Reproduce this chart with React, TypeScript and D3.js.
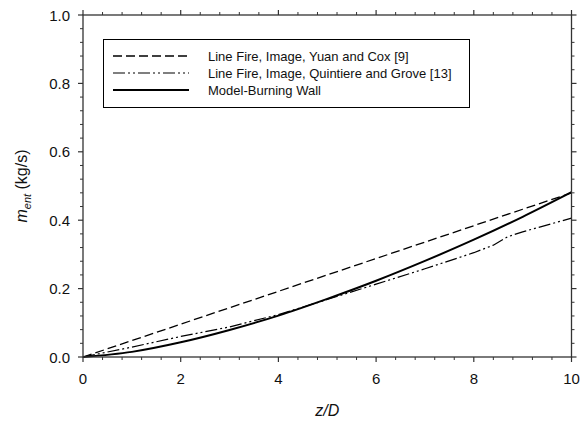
import React from "react";
import * as d3 from "d3";

const zYuan = [0, 1, 2, 3, 4, 5, 6, 7, 8, 9, 10];
const mYuan = [0, 0.048, 0.096, 0.144, 0.192, 0.24, 0.288, 0.336, 0.384, 0.432, 0.48];

const zQuin = [0, 1, 2, 3, 4, 5, 6, 7, 8, 8.4, 8.7, 9, 10];
const mQuin = [0, 0.029, 0.06, 0.088, 0.124, 0.168, 0.213, 0.258, 0.305, 0.327, 0.352, 0.366, 0.406];

const zModel = [0, 1, 2, 3, 4, 5, 6, 7, 8, 9, 10];
const mModel = [0, 0.015, 0.043, 0.079, 0.121, 0.17, 0.223, 0.281, 0.343, 0.41, 0.482];

const xTicks = [0, 2, 4, 6, 8, 10];
const yTicks = [0, 0.2, 0.4, 0.6, 0.8, 1.0];

const legendLabels = [
  "Line Fire, Image, Yuan and Cox [9]",
  "Line Fire, Image, Quintiere and Grove [13]",
  "Model-Burning Wall",
];

export default function App() {
  const W = 582, H = 422;
  const L = 83, R = 571.5, T = 15, B = 357;
  const x = d3.scaleLinear().domain([0, 10]).range([L, R]);
  const y = d3.scaleLinear().domain([0, 1]).range([B, T]);

  const xMinor = d3.range(0, 10.001, 0.4).filter((v) => Math.abs(v / 2 - Math.round(v / 2)) > 1e-6);
  const yMinor = d3.range(0, 1.0001, 0.04).filter((v) => Math.abs(v / 0.2 - Math.round(v / 0.2)) > 1e-6);

  const mk = (zs: number[], ms: number[], curve: any) =>
    d3.line<number>().x((_, i) => x(zs[i])).y((d) => y(d)).curve(curve)(ms) || "";

  const font = "Liberation Sans, Arial, sans-serif";
  const axisColor = "#333";
  const styles = [
    { dash: "9,4", w: 1.3 },
    { dash: "12,3,2,3,2,3", w: 1.2 },
    { dash: "", w: 2 },
  ];

  return (
    <svg width={W} height={H} style={{ position: "absolute", left: 0, top: 0 }} fontFamily={font}>
      <rect x={0} y={0} width={W} height={H} fill="white" />
      {/* data */}
      <path d={mk(zYuan, mYuan, d3.curveLinear)} fill="none" stroke="#000" strokeWidth={styles[0].w} strokeDasharray={styles[0].dash} />
      <path d={mk(zQuin, mQuin, d3.curveLinear)} fill="none" stroke="#000" strokeWidth={styles[1].w} strokeDasharray={styles[1].dash} />
      <path d={mk(zModel, mModel, d3.curveMonotoneX)} fill="none" stroke="#000" strokeWidth={styles[2].w} />

      {/* frame */}
      <rect x={L} y={T} width={R - L} height={B - T} fill="none" stroke={axisColor} strokeWidth={1.3} />

      {/* x ticks */}
      {xTicks.map((v) => (
        <g key={"xt" + v}>
          <line x1={x(v)} x2={x(v)} y1={B} y2={B + 5} stroke={axisColor} strokeWidth={1.2} />
          <line x1={x(v)} x2={x(v)} y1={T} y2={T - 5} stroke={axisColor} strokeWidth={1.2} />
          <text x={x(v)} y={B + 27} textAnchor="middle" fontSize={15} fill="#111">{v}</text>
        </g>
      ))}
      {xMinor.map((v) => (
        <g key={"xm" + v}>
          <line x1={x(v)} x2={x(v)} y1={B} y2={B + 3} stroke={axisColor} strokeWidth={1} />
          <line x1={x(v)} x2={x(v)} y1={T} y2={T - 3} stroke={axisColor} strokeWidth={1} />
        </g>
      ))}
      {/* y ticks */}
      {yTicks.map((v) => (
        <g key={"yt" + v}>
          <line x1={L} x2={L - 5} y1={y(v)} y2={y(v)} stroke={axisColor} strokeWidth={1.2} />
          <line x1={R} x2={R + 5} y1={y(v)} y2={y(v)} stroke={axisColor} strokeWidth={1.2} />
          <text x={70} y={y(v) + 5.5} textAnchor="end" fontSize={15} fill="#111">{v.toFixed(1)}</text>
        </g>
      ))}
      {yMinor.map((v) => (
        <g key={"ym" + v}>
          <line x1={L} x2={L - 3} y1={y(v)} y2={y(v)} stroke={axisColor} strokeWidth={1} />
          <line x1={R} x2={R + 3} y1={y(v)} y2={y(v)} stroke={axisColor} strokeWidth={1} />
        </g>
      ))}

      {/* axis titles */}
      <text x={(L + R) / 2} y={416} textAnchor="middle" fontSize={16} fontStyle="italic" fill="#111">z/D</text>
      <text transform={`translate(27, ${(T + B) / 2}) rotate(-90)`} textAnchor="middle" fontSize={16} fill="#111">
        <tspan fontStyle="italic">m</tspan>
        <tspan fontStyle="italic" fontSize={11} dy={4}>ent</tspan>
        <tspan dy={-4}> (kg/s)</tspan>
      </text>

      {/* legend */}
      <rect x={103.5} y={39.5} width={366} height={68} fill="white" stroke="#000" strokeWidth={1} />
      {legendLabels.map((lab, i) => (
        <g key={lab}>
          <line x1={113} x2={189} y1={56 + i * 17} y2={56 + i * 17} stroke="#000" strokeWidth={styles[i].w} strokeDasharray={styles[i].dash} />
          <text x={208} y={56 + i * 17 + 4.5} fontSize={13} fill="#111">{lab}</text>
        </g>
      ))}
    </svg>
  );
}
